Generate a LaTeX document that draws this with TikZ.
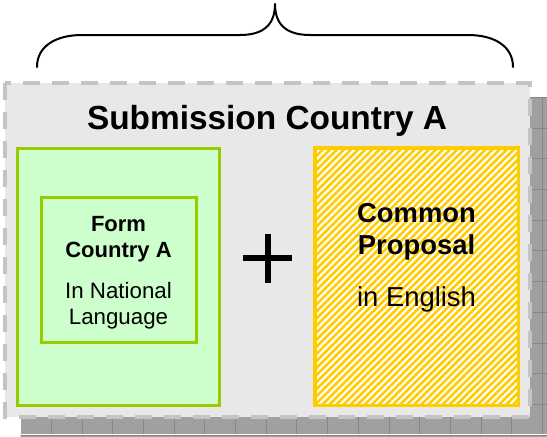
\documentclass[tikz,border=0pt]{standalone}
\usepackage{fontspec}
\setmainfont{Liberation Sans}
\usetikzlibrary{patterns.meta}
\definecolor{shadowgray}{HTML}{A0A0A0}
\definecolor{shadowline}{HTML}{878787}
\definecolor{boxgray}{HTML}{E8E8E8}
\definecolor{dashgray}{HTML}{C4C4C4}
\definecolor{lightgreen}{HTML}{CCFFCC}
\definecolor{greenline}{HTML}{99CC00}
\definecolor{goldline}{HTML}{FFCC00}
\tikzset{
  greenbox/.style={fill=lightgreen, draw=greenline, line width=3pt},
  hatchbox/.style={draw=goldline, line width=3.5pt},
  bigtitle/.style={font=\fontsize{33.4}{38}\selectfont\bfseries, anchor=base, inner sep=0pt},
  midbold/.style={font=\fontsize{27.4}{32}\selectfont\bfseries, anchor=base, inner sep=0pt},
  midreg/.style={font=\fontsize{27.4}{32}\selectfont, anchor=base, inner sep=0pt},
  smallbold/.style={font=\fontsize{22}{26}\selectfont\bfseries, anchor=base, inner sep=0pt},
  smallreg/.style={font=\fontsize{22.3}{26}\selectfont, anchor=base, inner sep=0pt},
  bracepath/.style={line width=2pt, line cap=round, line join=round}
}
\begin{document}
\begin{tikzpicture}[x=1pt,y=-1pt]
\useasboundingbox (0,0) rectangle (547,437);
% shadow with grid
\fill[shadowgray] (20.5,97.5) rectangle (547,437);
\begin{scope}
\clip (20.5,97.5) rectangle (547,437);
\foreach \i in {0,...,17} {
  \draw[shadowline, line width=0.8pt] (20.5+30.7*\i,97.5) -- (20.5+30.7*\i,437);
}
\foreach \j in {0,...,11} {
  \draw[shadowline, line width=0.8pt] (20.5,97.3+30.7*\j) -- (547,97.3+30.7*\j);
}
\end{scope}
\draw[white, line width=0.8pt] (20.5,97.5) -- (20.5,434.5) -- (547,434.5);
% main gray box
\fill[boxgray] (5,83) rectangle (529.5,417);
\draw[dashgray, line width=4pt, dash pattern=on 17pt off 12pt] (5,83) rectangle (529.5,417);
% brace
\draw[bracepath] (37,67) .. controls (37,46) and (56,35) .. (82,35) -- (240,35)
  .. controls (262,35) and (275,26) .. (275,4)
  .. controls (275,26) and (288,35) .. (310,35) -- (468,35)
  .. controls (494,35) and (513,46) .. (513,67);
% title
\node[bigtitle] (title) at (267,129.5) {Submission Country A};
% green boxes
\draw[greenbox] (17.5,148.5) rectangle (219.5,405);
\draw[greenbox] (41.5,197.5) rectangle (196.5,342);
\node[smallbold] (form1) at (118.5,231) {Form};
\node[smallbold] (form2) at (118.5,257) {Country A};
\node[smallreg] (lang1) at (118.5,298) {In National};
\node[smallreg] (lang2) at (118.5,324) {Language};
% plus
\fill (264.7,234) rectangle (270.7,282.7);
\fill (243.3,255.3) rectangle (291.7,261.3);
% yellow hatched box
\fill[white] (315,148) rectangle (518.5,405.5);
\fill[pattern={Lines[angle=45,distance=5pt,line width=2.6pt]}, pattern color=goldline] (315,148) rectangle (518.5,405.5);
\draw[hatchbox] (315,148) rectangle (518.5,405.5);
\node[midbold] (common) at (416.5,222) {Common};
\node[midbold] (proposal) at (416.5,254) {Proposal};
\node[midreg] (english) at (416.5,306.5) {in English};
\end{tikzpicture}
\end{document}
